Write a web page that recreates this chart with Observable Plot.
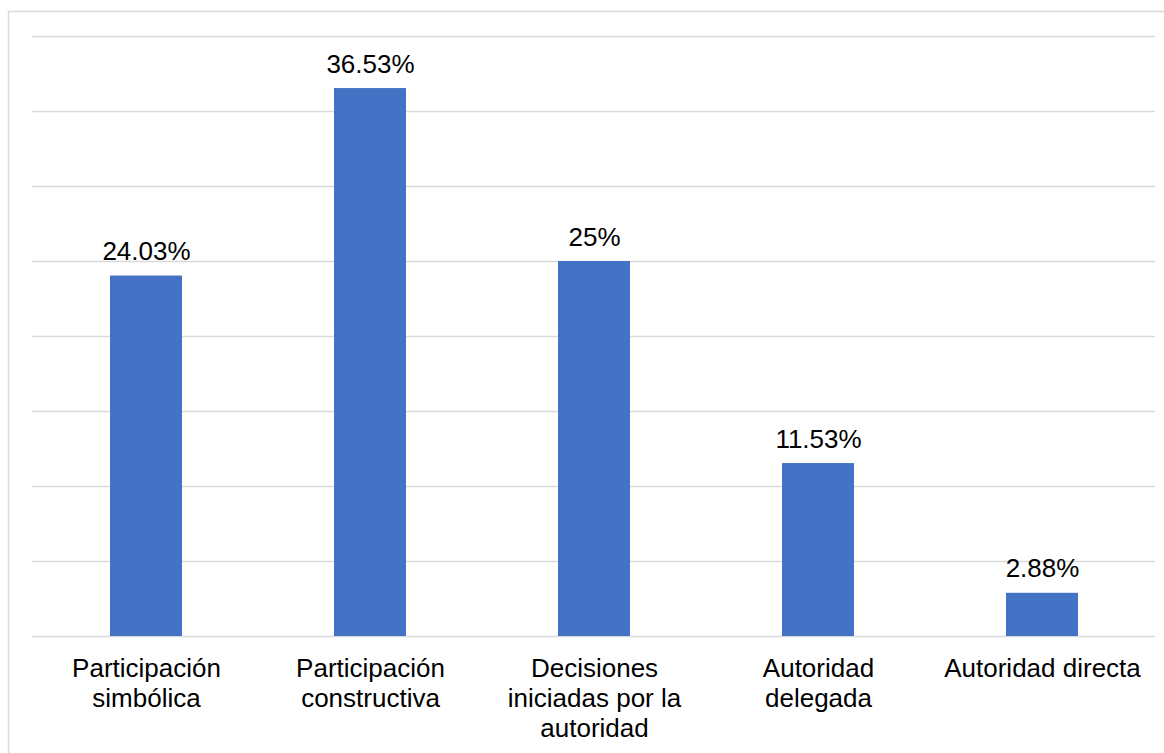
<!DOCTYPE html>
<html>
<head>
<meta charset="utf-8">
<script src="https://cdn.jsdelivr.net/npm/d3@7"></script>
<script src="https://cdn.jsdelivr.net/npm/@observablehq/plot@0.6"></script>
<style>
  html, body { margin: 0; padding: 0; background: #fff; overflow: hidden; }
  #chart svg { display: block; }
</style>
</head>
<body>
<div id="chart"></div>
<script>
const categories = [
  "Participación\nsimbólica",
  "Participación\nconstructiva",
  "Decisiones\niniciadas por la\nautoridad",
  "Autoridad\ndelegada",
  "Autoridad directa"
];
const values = [24.03, 36.53, 25, 11.53, 2.88];
const valueLabels = ["24.03%", "36.53%", "25%", "11.53%", "2.88%"];
const gridTicks = [0, 5, 10, 15, 20, 25, 30, 35, 40];

const data = categories.map((c, i) => ({cat: c, value: values[i], label: valueLabels[i]}));

const chart = Plot.plot({
  width: 1164,
  height: 753,
  marginLeft: 32,
  marginRight: 9,
  marginTop: 36,
  marginBottom: 117,
  style: {fontFamily: "Arial, 'Liberation Sans', sans-serif", fontSize: "26px", color: "#000", background: "#fff"},
  x: {domain: categories, paddingInner: 0.68, paddingOuter: 0.34, axis: null},
  y: {domain: [0, 40], axis: null},
  marks: [
    Plot.frame({stroke: "#d9d9d9", strokeWidth: 1.5, insetLeft: -24, insetTop: -25, insetRight: -12, insetBottom: -140}),
    Plot.ruleY(gridTicks, {stroke: "#d9d9d9", strokeWidth: 1.5}),
    Plot.barY(data, {x: "cat", y: "value", fill: "#4472C4"}),
    Plot.text(data, {x: "cat", y: "value", text: "label", lineAnchor: "bottom", dy: -16, fontSize: 26, fill: "#000"}),
    Plot.text(data, {x: "cat", y: () => 0, text: "cat", lineAnchor: "top", dy: 19, lineHeight: 1.16, fontSize: 26, fill: "#000"})
  ]
});
document.getElementById("chart").appendChild(chart);
</script>
</body>
</html>
